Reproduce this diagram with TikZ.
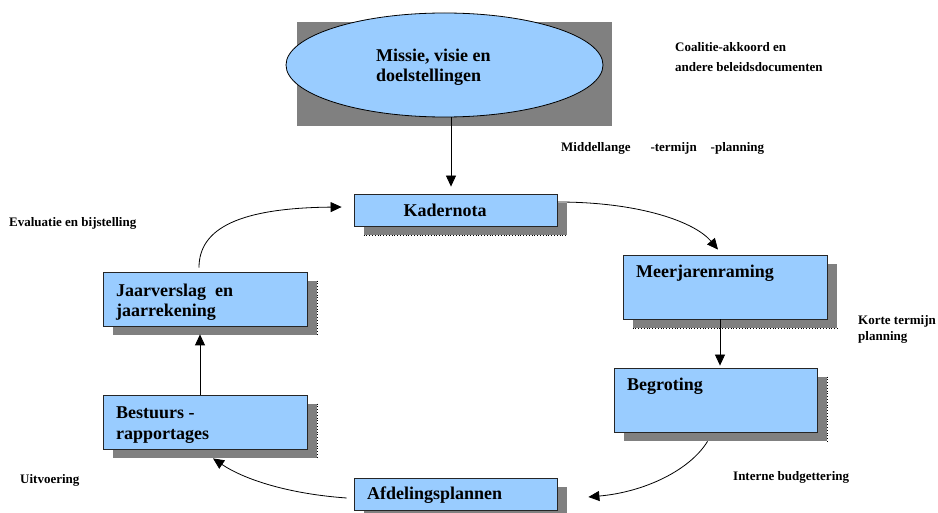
\documentclass[tikz,border=0pt]{standalone}
\usepackage{fontspec}
\setmainfont{Liberation Serif}
\usetikzlibrary{shapes.geometric,shadows,arrows.meta}
\definecolor{boxblue}{HTML}{99CCFF}
\definecolor{shadegray}{HTML}{808080}
\begin{document}
\begin{tikzpicture}[x=1pt,y=-1pt,
  box/.style={draw=black!85, line width=0.8pt, fill=boxblue, rectangle, inner sep=0pt,
    drop shadow={shadow xshift=10pt, shadow yshift=-9pt, fill=shadegray, opacity=1}},
  boxtext/.style={font=\fontsize{18}{20.5}\selectfont\bfseries, anchor=west, inner sep=0pt, align=left},
  lbl/.style={font=\fontsize{13}{16}\selectfont\bfseries, anchor=west, inner sep=0pt, align=left},
  arr/.style={line width=0.8pt, -{Triangle[length=11pt,width=10pt]}},
  dotedge/.style={dotted, line width=0.8pt}]
\useasboundingbox (0,0) rectangle (938,513);

% top ellipse with its grey backing
\fill[shadegray] (297,22) rectangle (612,126);
\node[draw=black, line width=0.8pt, fill=boxblue, ellipse, minimum width=317pt, minimum height=104pt, inner sep=0pt] (ell) at (444.5,65) {};
\node[boxtext] (tmissie) at (376,67) {Missie, visie en\\doelstellingen};

% boxes
\node[box, minimum width=203pt, minimum height=32pt] (kn) at (455.5,210) {};
\node[box, minimum width=204pt, minimum height=64pt] (mj) at (725,287) {};
\node[box, minimum width=203pt, minimum height=64pt] (bg) at (715.5,400) {};
\node[box, minimum width=204pt, minimum height=54pt] (jv) at (205,299) {};
\node[box, minimum width=204pt, minimum height=54pt] (bs) at (205,422) {};
\node[box, minimum width=203pt, minimum height=32pt] (af) at (455.5,494) {};

% dotted shadow edges
\draw[dotedge] ([shift={(10,9)}]kn.south west) -- ([shift={(10,9)}]kn.south east);
\draw[dotedge] ([shift={(10,9)}]mj.south west) -- ([shift={(10,9)}]mj.south east);
\draw[dotedge] ([shift={(10,9)}]bg.north east) -- ([shift={(10,9)}]bg.south east);
\draw[dotedge] ([shift={(10,9)}]jv.north east) -- ([shift={(10,9)}]jv.south east);
\draw[dotedge] ([shift={(10,9)}]bs.north east) -- ([shift={(10,9)}]bs.south east);

% box texts
\node[boxtext, anchor=center] (tkn) at (445,210) {Kadernota};
\node[boxtext] (tmj) at (636,273) {Meerjarenraming};
\node[boxtext] (tbg) at (627,386) {Begroting};
\node[boxtext] (tjv) at (116,302) {Jaarverslag\ \ en\\jaarrekening};
\node[boxtext] (tbs) at (116,425) {Bestuurs -\\rapportages};
\node[boxtext] (taf) at (367,495) {Afdelingsplannen};

% connectors
\draw[arr] ([shift={(6.5,0)}]ell.south) -- ([shift={(-4.5,-7)}]kn.north);
\draw[arr] ([shift={(-5,0)}]mj.south) -- ([shift={(4.5,-2)}]bg.north);
\draw[arr] ([shift={(-5,0)}]bs.north) -- ([shift={(-5,8)}]jv.south);
\draw[arr] ([shift={(0,-8)}]kn.east) .. controls (640,202) and (695,222) .. ([shift={(-7,-5)}]mj.north);
\draw[arr] ([shift={(-8,9)}]bg.south) .. controls (690,470) and (645,492) .. ([shift={(31,3)}]af.east);
\draw[arr] ([shift={(-7,4)}]af.west) .. controls (290,494) and (245,480) .. ([shift={(8,9)}]bs.south);
\draw[arr] ([shift={(-6,-4)}]jv.north) .. controls (199,228) and (240,208) .. ([shift={(-12,-3)}]kn.west);

% labels
\node[lbl] (lcoal) at (675,57) {Coalitie-akkoord en\\[4pt]andere beleidsdocumenten};
\node[lbl] (lmid) at (561,148) {Middellange\hspace{20pt}-termijn\hspace{14pt}-planning};
\node[lbl] (leval) at (9,223) {Evaluatie en bijstelling};
\node[lbl] (lkort) at (858,329) {Korte termijn\\planning};
\node[lbl] (lint) at (733,477) {Interne budgettering};
\node[lbl] (luit) at (20,480) {Uitvoering};
\end{tikzpicture}
\end{document}
